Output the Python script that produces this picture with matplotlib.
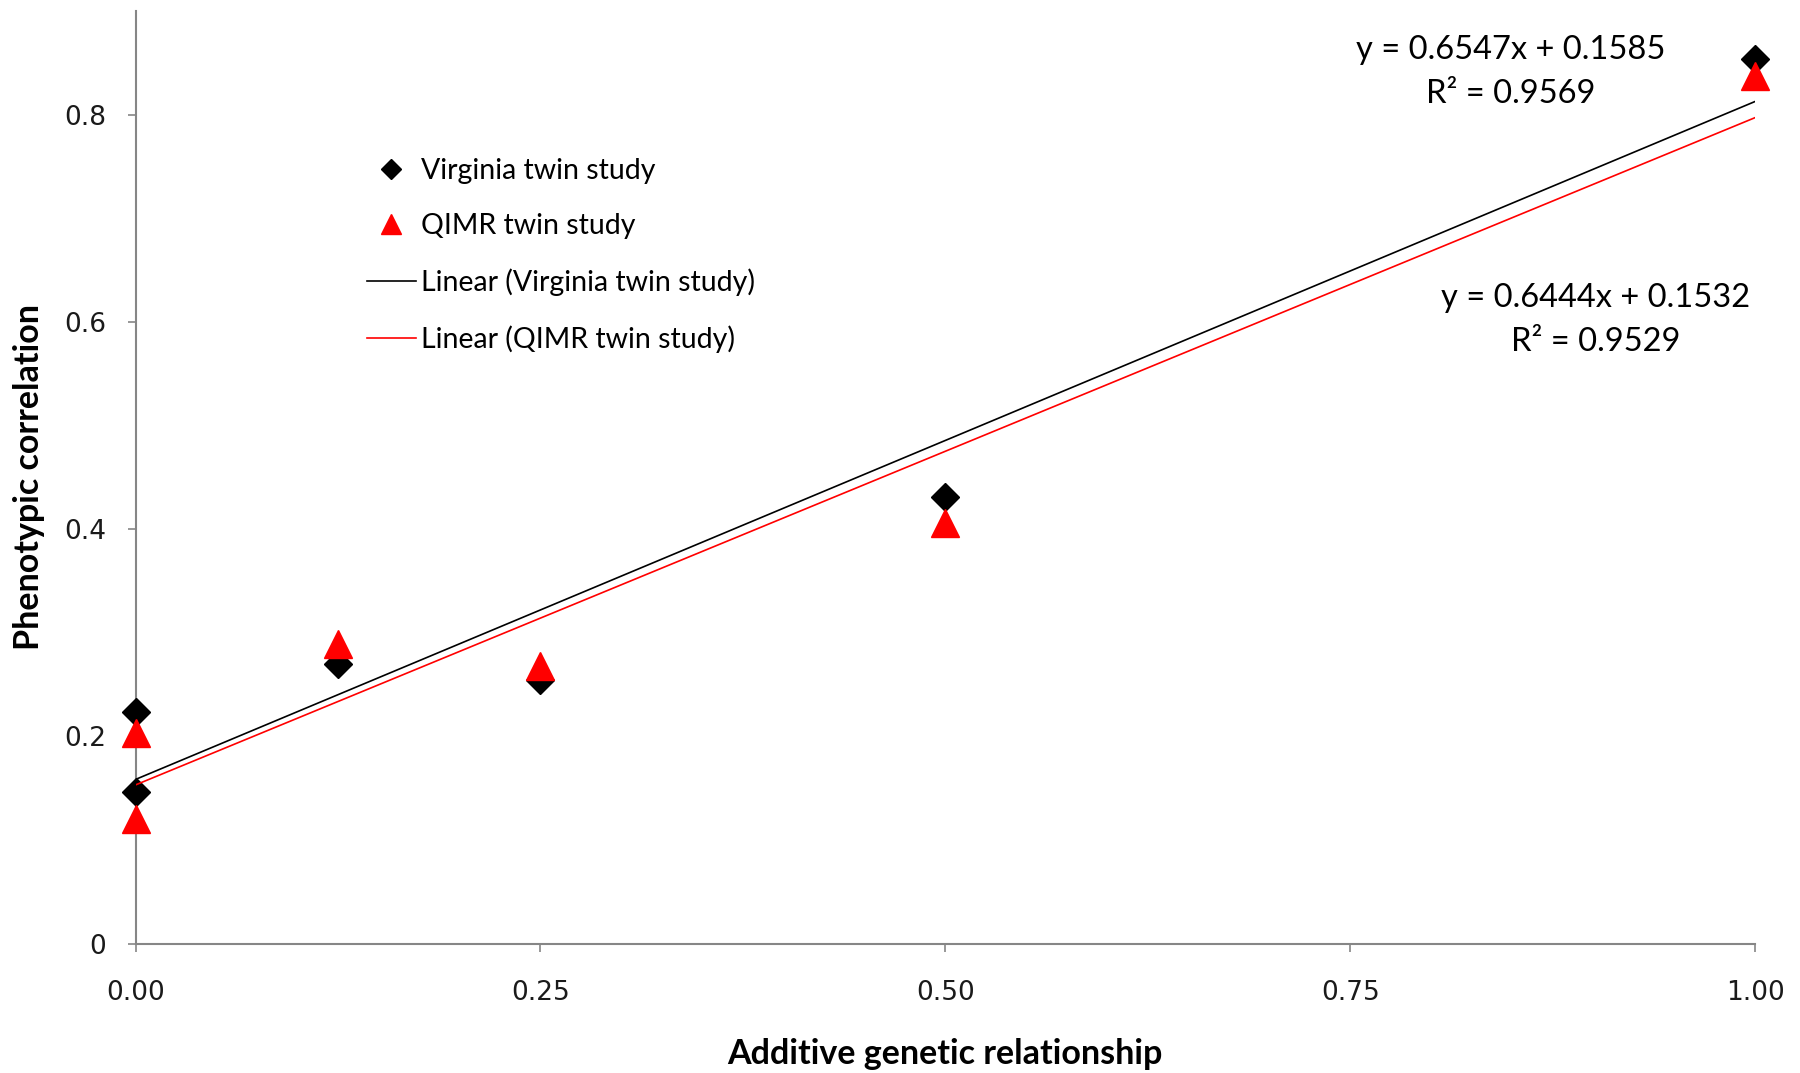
import matplotlib.pyplot as plt
import numpy as np

# Data
relationship = [0.0, 0.0, 0.125, 0.25, 0.5, 1.0]
virginia = [0.2235, 0.146, 0.270, 0.2545, 0.4315, 0.854]
qimr = [0.2036, 0.1206, 0.289, 0.268, 0.406, 0.8376]

# Trendline coefficients as printed on the chart (slope, intercept, r2)
virginia_fit = [0.6547, 0.1585, 0.9569]
qimr_fit = [0.6444, 0.1532, 0.9529]

x_ticks = [0.0, 0.25, 0.5, 0.75, 1.0]
x_ticklabels = ["0.00", "0.25", "0.50", "0.75", "1.00"]
y_ticks = [0.0, 0.2, 0.4, 0.6, 0.8]
y_ticklabels = ["0", "0.2", "0.4", "0.6", "0.8"]

plt.rcParams["font.family"] = ["Lato", "DejaVu Sans"]

fig = plt.figure(figsize=(18, 10.73), dpi=100)
ax = fig.add_axes([135.5 / 1800, 1 - 943.6 / 1073, (1755.3 - 135.5) / 1800, (943.6 - 11.5) / 1073])

# Scatter points
ax.plot(relationship, virginia, linestyle="none", marker="D", markersize=14,
        color="black", label="Virginia twin study", zorder=3, clip_on=False)
ax.plot(relationship, qimr, linestyle="none", marker="^", markersize=20,
        color="red", label="QIMR twin study", zorder=4, clip_on=False)

# Linear trendlines
xs = np.array([0.0, 1.0])
ax.plot(xs, virginia_fit[0] * xs + virginia_fit[1], color="black", lw=1.2,
        label="Linear (Virginia twin study)", zorder=5)
ax.plot(xs, qimr_fit[0] * xs + qimr_fit[1], color="red", lw=1.2,
        label="Linear (QIMR twin study)", zorder=5)

ax.set_xlim(0, 1.0)
ax.set_ylim(0, 0.9)
ax.set_xticks(x_ticks)
ax.set_xticklabels(x_ticklabels)
ax.set_yticks(y_ticks)
ax.set_yticklabels(y_ticklabels)

for side in ["top", "right"]:
    ax.spines[side].set_visible(False)
for side in ["left", "bottom"]:
    ax.spines[side].set_color("#868686")
    ax.spines[side].set_linewidth(1.5)
    ax.spines[side].set_zorder(1)

ax.tick_params(axis="both", length=6, width=1.2, color="#868686",
               labelsize=19, labelcolor="#1a1a1a")
for lab in ax.get_xticklabels() + ax.get_yticklabels():
    lab.set_family("DejaVu Sans")
ax.tick_params(axis="x", pad=20)
ax.tick_params(axis="y", pad=15)

fig.text(945 / 1800, 1 - 1054 / 1073, "Additive genetic relationship",
         fontsize=24.5, fontweight="bold", ha="center", va="center")
fig.text(29 / 1800, 1 - 477 / 1073, "Phenotypic correlation",
         fontsize=24.5, fontweight="bold", ha="center", va="center", rotation=90)

# Trendline equations
fig.text(1511 / 1800, 1 - 72 / 1073,
         f"y = {virginia_fit[0]}x + {virginia_fit[1]}\nR\u00b2 = {virginia_fit[2]}",
         fontsize=23.5, ha="center", va="center", multialignment="center", linespacing=1.6)
fig.text(1596 / 1800, 1 - 320 / 1073,
         f"y = {qimr_fit[0]}x + {qimr_fit[1]}\nR\u00b2 = {qimr_fit[2]}",
         fontsize=23.5, ha="center", va="center", multialignment="center", linespacing=1.6)

ax.legend(loc="upper left", bbox_to_anchor=(367 / 1800, 1 - 158 / 1073),
          bbox_transform=fig.transFigure, frameon=False, fontsize=20.5,
          handlelength=1.72, handletextpad=0.18, labelspacing=1.03,
          borderpad=0, borderaxespad=0, numpoints=1, markerscale=0.7)

fig.savefig("out.png", dpi=100)
